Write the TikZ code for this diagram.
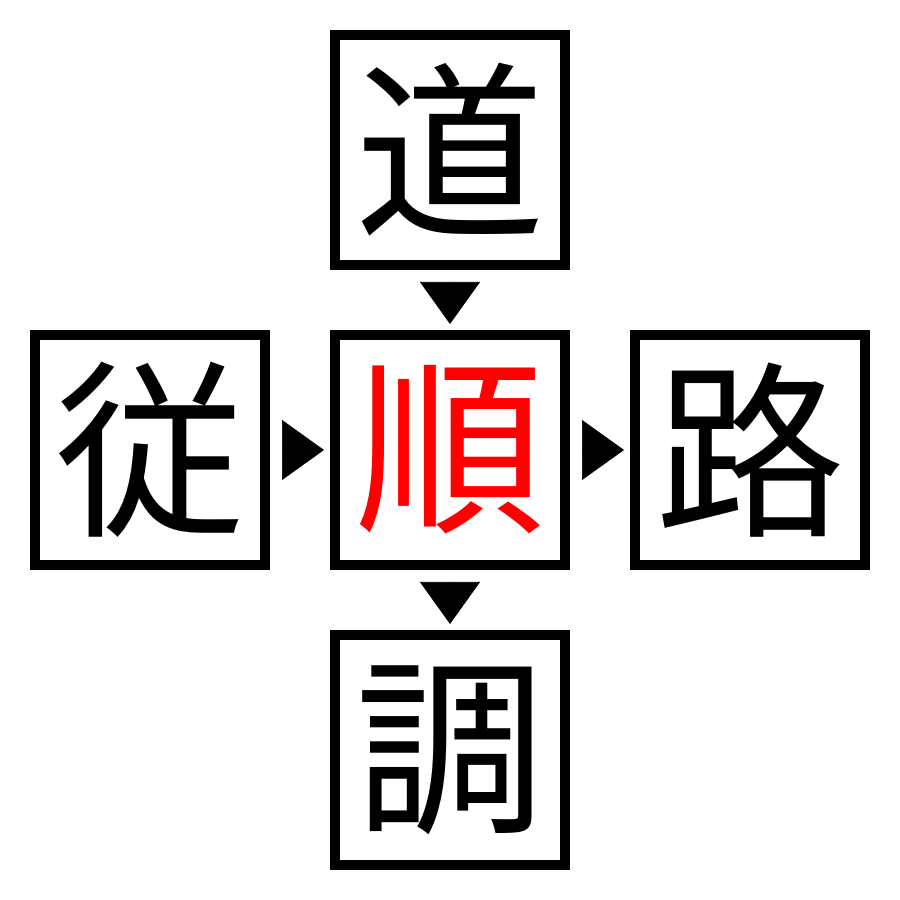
\documentclass[tikz,border=0pt]{standalone}
\usepackage{fontspec}
\newfontfamily\jpfont{Noto Sans CJK JP}
\usetikzlibrary{positioning,arrows.meta}

\begin{document}
\begin{tikzpicture}[
  kanji/.style={draw, line width=1mm, minimum size=2.3cm, inner sep=0pt,
    font=\jpfont\fontsize{54}{54}\selectfont},
  link/.style={-{Triangle[length=4.2mm,width=6mm]}, line width=0.2pt,
    shorten <=1.2mm, shorten >=0.6mm}]
  \useasboundingbox (0,0) rectangle (9,9);
  \node[kanji, text=red] (shun) at (4.5,4.5) {順};
  \node[kanji, above=0.6cm of shun] (dao) {道};
  \node[kanji, below=0.6cm of shun] (diao) {調};
  \node[kanji, left=0.6cm of shun] (cong) {従};
  \node[kanji, right=0.6cm of shun] (lu) {路};
  \draw[link] (dao) -- (shun);
  \draw[link] (cong) -- (shun);
  \draw[link] (shun) -- (lu);
  \draw[link] (shun) -- (diao);
\end{tikzpicture}
\end{document}
